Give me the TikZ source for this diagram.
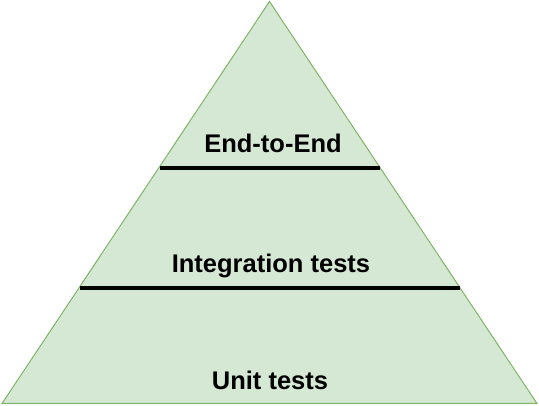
\documentclass[tikz,border=0pt]{standalone}
\usepackage{fontspec}
\setmainfont{Liberation Sans}
\definecolor{pyrfill}{HTML}{D5E8D4}
\definecolor{pyrstroke}{HTML}{82B366}
\begin{document}
\begin{tikzpicture}[x=1pt,y=-1pt,
  lbl/.style={anchor=base,inner sep=0pt,font=\fontsize{25.5}{30}\selectfont\bfseries},
  divider/.style={line width=3.5pt,black}]
\useasboundingbox (0,0) rectangle (539,406);
\coordinate (apex) at (269.5,1.5);
\coordinate (bl) at (2,403.5);
\coordinate (br) at (537,403.5);
\draw[pyrstroke,fill=pyrfill,line width=1pt] (apex) -- (br) -- (bl) -- cycle;
\coordinate (d1l) at (160,168);
\coordinate (d1r) at (380,168);
\coordinate (d2l) at (80,288);
\coordinate (d2r) at (460,288);
\draw[divider] (d1l) -- (d1r);
\draw[divider] (d2l) -- (d2r);
\node[lbl] (e2e) at (273,153) {End-to-End};
\node[lbl] (integ) at (271,273) {Integration tests};
\node[lbl] (unit) at (270,390) {Unit tests};
\end{tikzpicture}
\end{document}
